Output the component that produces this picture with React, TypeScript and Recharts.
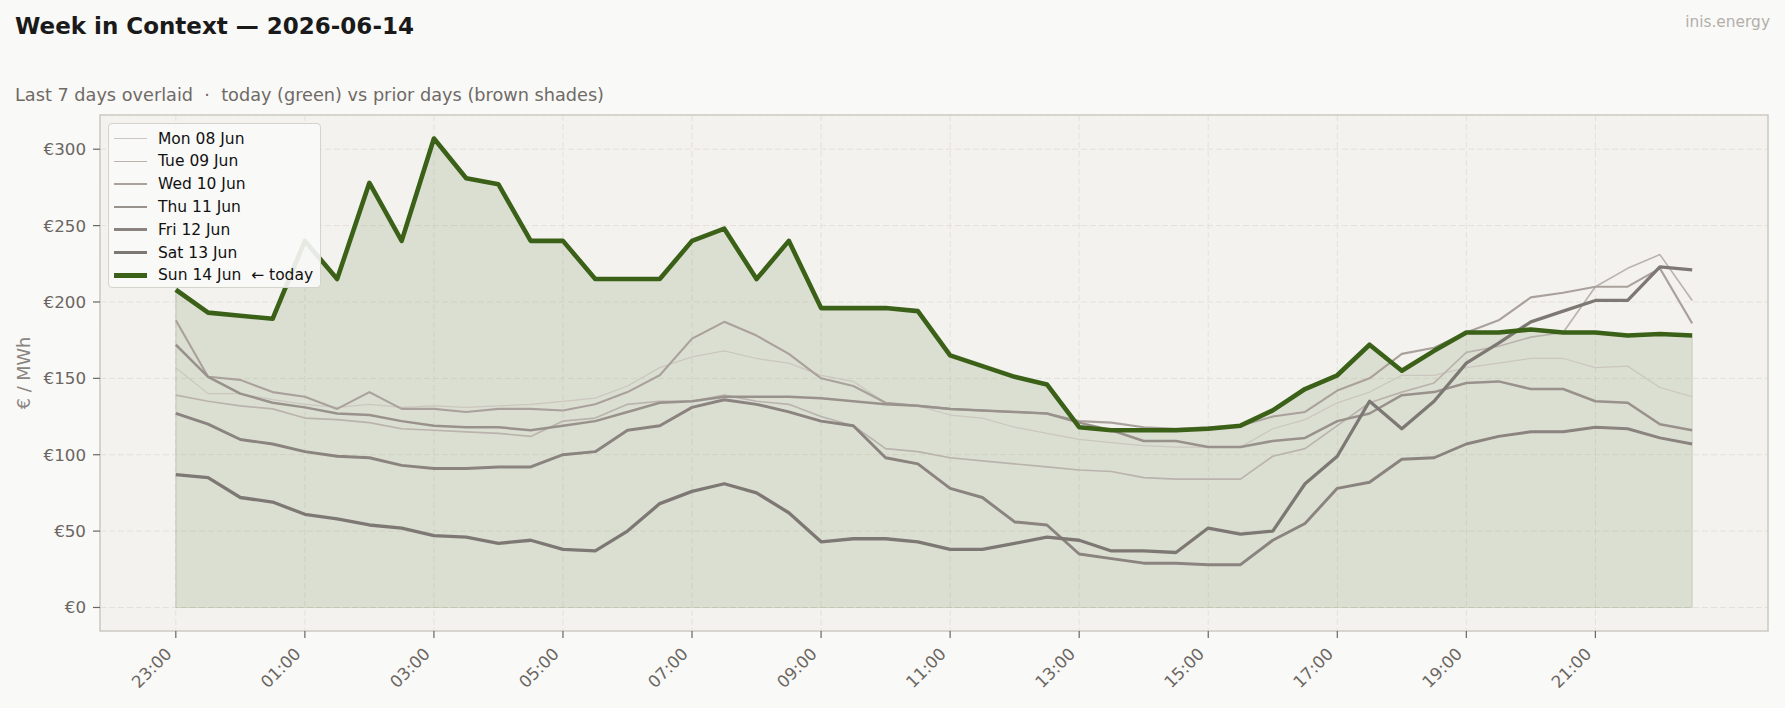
import {
  ComposedChart,
  Line,
  Area,
  XAxis,
  YAxis,
  CartesianGrid,
  ReferenceArea,
  ReferenceLine,
} from 'recharts';

const FONT = '"DejaVu Sans", sans-serif';

// half-hour slots of the delivery day, starting 23:00 the evening before
const SLOTS = [
  '23:00', '23:30', '00:00', '00:30', '01:00', '01:30', '02:00', '02:30',
  '03:00', '03:30', '04:00', '04:30', '05:00', '05:30', '06:00', '06:30',
  '07:00', '07:30', '08:00', '08:30', '09:00', '09:30', '10:00', '10:30',
  '11:00', '11:30', '12:00', '12:30', '13:00', '13:30', '14:00', '14:30',
  '15:00', '15:30', '16:00', '16:30', '17:00', '17:30', '18:00', '18:30',
  '19:00', '19:30', '20:00', '20:30', '21:00', '21:30', '22:00', '22:30',
];

// €/MWh per slot
const MON_08 = [
  157, 140, 140, 136, 133, 131, 133, 131, 132, 131, 132, 133,
  135, 137, 145, 157, 164, 168, 163, 160, 152, 148, 134, 132,
  126, 124, 118, 114, 110, 108, 106, 105, 105, 105, 117, 123,
  134, 141, 152, 152, 157, 160, 163, 163, 157, 158, 144, 138,
];
const TUE_09 = [
  139, 135, 132, 130, 124, 123, 121, 117, 116, 115, 114, 112,
  122, 124, 133, 135, 135, 139, 135, 133, 125, 119, 104, 102,
  98, 96, 94, 92, 90, 89, 85, 84, 84, 84, 99, 104,
  119, 134, 141, 147, 167, 171, 177, 180, 210, 222, 231, 201,
];
const WED_10 = [
  188, 151, 149, 141, 138, 130, 141, 130, 130, 128, 130, 130,
  129, 133, 141, 152, 176, 187, 178, 166, 150, 145, 134, 132,
  130, 129, 128, 127, 122, 121, 118, 117, 118, 119, 125, 128,
  142, 150, 166, 170, 180, 188, 203, 206, 210, 210, 222, 186,
];
const THU_11 = [
  172, 151, 140, 134, 131, 127, 126, 122, 119, 118, 118, 116,
  119, 122, 128, 134, 135, 138, 138, 138, 137, 135, 133, 132,
  130, 129, 128, 127, 121, 116, 109, 109, 105, 105, 109, 111,
  122, 127, 139, 141, 147, 148, 143, 143, 135, 134, 120, 116,
];
const FRI_12 = [
  127, 120, 110, 107, 102, 99, 98, 93, 91, 91, 92, 92,
  100, 102, 116, 119, 131, 136, 133, 128, 122, 119, 98, 94,
  78, 72, 56, 54, 35, 32, 29, 29, 28, 28, 44, 55,
  78, 82, 97, 98, 107, 112, 115, 115, 118, 117, 111, 107,
];
const SAT_13 = [
  87, 85, 72, 69, 61, 58, 54, 52, 47, 46, 42, 44,
  38, 37, 50, 68, 76, 81, 75, 62, 43, 45, 45, 43,
  38, 38, 42, 46, 44, 37, 37, 36, 52, 48, 50, 81,
  99, 135, 117, 135, 160, 173, 187, 194, 201, 201, 223, 221,
];
const SUN_14 = [
  208, 193, 191, 189, 240, 215, 278, 240, 307, 281, 277, 240,
  240, 215, 215, 215, 240, 248, 215, 240, 196, 196, 196, 194,
  165, 158, 151, 146, 118, 116, 116, 116, 117, 119, 129, 143,
  152, 172, 155, 168, 180, 180, 182, 180, 180, 178, 179, 178,
];

const SERIES = [
  { key: 'mon', label: 'Mon 08 Jun', values: MON_08, color: '#cbc6c0', width: 1.25 },
  { key: 'tue', label: 'Tue 09 Jun', values: TUE_09, color: '#bab3ad', width: 1.65 },
  { key: 'wed', label: 'Wed 10 Jun', values: WED_10, color: '#aaa19c', width: 2.1 },
  { key: 'thu', label: 'Thu 11 Jun', values: THU_11, color: '#99918c', width: 2.5 },
  { key: 'fri', label: 'Fri 12 Jun', values: FRI_12, color: '#8a837f', width: 2.9 },
  { key: 'sat', label: 'Sat 13 Jun', values: SAT_13, color: '#7e7874', width: 3.3 },
  { key: 'sun', label: 'Sun 14 Jun  \u2190 today', values: SUN_14, color: '#3b6118', width: 4.6 },
];

const Y_TICKS = [0, 50, 100, 150, 200, 250, 300];
const X_TICKS = SLOTS.map((_, i) => i).filter((i) => i % 4 === 0);
const LAST = SLOTS.length - 1;

// axis limits with a 5% margin around the data
const X_MIN = -2.35;
const X_MAX = LAST + 2.35;
const Y_MIN = -15.4;
const Y_MAX = 322.4;

const rows = SLOTS.map((t, i) => {
  const row: Record<string, number | string> = { i, t };
  SERIES.forEach((s) => {
    row[s.key] = s.values[i];
  });
  return row;
});

const TICK_COLOR = '#6b6662';

const TimeTick = ({ x, y, payload }: any) => {
  const bx = x - 3;
  const by = y + 15;
  return (
    <text
      x={bx}
      y={by}
      transform={`rotate(-45 ${bx} ${by})`}
      textAnchor="end"
      fontSize={16.7}
      fontFamily={FONT}
      fill={TICK_COLOR}
    >
      {SLOTS[payload.value]}
    </text>
  );
};

const LegendBox = () => (
  <div
    style={{
      position: 'absolute',
      left: 108,
      top: 123,
      width: 213,
      height: 165,
      boxSizing: 'border-box',
      border: '1.5px solid #d6d2cc',
      borderRadius: 4,
      background: 'rgba(250,250,248,0.9)',
      fontFamily: FONT,
    }}
  >
    {SERIES.map((s, k) => (
      <div
        key={s.key}
        style={{ position: 'absolute', left: 0, top: 14.7 + k * 22.76 - 11, height: 22, width: 210 }}
      >
        <div
          style={{
            position: 'absolute',
            left: 5,
            top: 11 - s.width / 2,
            width: 33,
            height: s.width,
            background: s.color,
          }}
        />
        <div
          style={{
            position: 'absolute',
            left: 49,
            top: 0,
            lineHeight: '22px',
            fontSize: 15.5,
            color: '#111',
            whiteSpace: 'pre',
          }}
        >
          {s.label}
        </div>
      </div>
    ))}
  </div>
);

export default function App() {
  return (
    <div
      style={{
        position: 'absolute',
        left: 0,
        top: 0,
        width: 1785,
        height: 708,
        background: '#f9f9f7',
        overflow: 'hidden',
      }}
    >
      <ComposedChart
        width={1785}
        height={708}
        data={rows}
        margin={{ top: 115, right: 17, bottom: 7, left: 10 }}
      >
        <CartesianGrid stroke="#e4e1db" strokeDasharray="6 3" strokeWidth={1} fill="#f3f2ee" />
        <XAxis
          type="number"
          dataKey="i"
          domain={[X_MIN, X_MAX]}
          ticks={X_TICKS}
          allowDataOverflow
          axisLine={false}
          tickLine={{ stroke: TICK_COLOR, strokeWidth: 1.2 }}
          tickSize={7}
          height={70}
          tick={<TimeTick />}
          interval={0}
        />
        <YAxis
          type="number"
          domain={[Y_MIN, Y_MAX]}
          ticks={Y_TICKS}
          allowDataOverflow
          axisLine={false}
          tickLine={{ stroke: TICK_COLOR, strokeWidth: 1.2 }}
          tickSize={7}
          tickMargin={7}
          width={90}
          tickFormatter={(v: number) => `\u20ac${v}`}
          tick={{ fill: TICK_COLOR, fontSize: 16.7, fontFamily: FONT }}
        />
        <Area
          type="linear"
          dataKey="sun"
          baseValue={0}
          stroke="none"
          fill="#3b6118"
          fillOpacity={0.13}
          isAnimationActive={false}
        />
        <ReferenceLine
          segment={[{ x: 0, y: 0 }, { x: LAST, y: 0 }]}
          stroke="#3b6118"
          strokeOpacity={0.14}
          strokeWidth={1.2}
        />
        <ReferenceLine
          segment={[{ x: 0, y: 0 }, { x: 0, y: SUN_14[0] }]}
          stroke="#3b6118"
          strokeOpacity={0.14}
          strokeWidth={1.2}
        />
        <ReferenceLine
          segment={[{ x: LAST, y: 0 }, { x: LAST, y: SUN_14[LAST] }]}
          stroke="#3b6118"
          strokeOpacity={0.14}
          strokeWidth={1.2}
        />
        {SERIES.map((s) => (
          <Line
            key={s.key}
            type="linear"
            dataKey={s.key}
            stroke={s.color}
            strokeWidth={s.width}
            strokeLinejoin="round"
            dot={false}
            activeDot={false}
            isAnimationActive={false}
          />
        ))}
        <ReferenceArea
          x1={X_MIN}
          x2={X_MAX}
          y1={Y_MIN}
          y2={Y_MAX}
          fill="none"
          stroke="#d0ccc5"
          strokeWidth={1.6}
        />
      </ComposedChart>

      <svg
        width={1785}
        height={708}
        style={{ position: 'absolute', left: 0, top: 0, pointerEvents: 'none' }}
      >
        <text x={15} y={34} fontSize={23} fontWeight="bold" fontFamily={FONT} fill="#1a1a1a">
          Week in Context — 2026-06-14
        </text>
        <text
          x={15}
          y={101}
          fontSize={17.7}
          fontFamily={FONT}
          fill="#6f6a66"
          style={{ whiteSpace: 'pre' }}
        >
          {'Last 7 days overlaid  \u00b7  today (green) vs prior days (brown shades)'}
        </text>
        <text x={1770} y={27} fontSize={15.4} fontFamily={FONT} fill="#b3afab" textAnchor="end">
          inis.energy
        </text>
        <text
          x={24}
          y={373}
          transform="rotate(-90 24 373)"
          textAnchor="middle"
          dominantBaseline="central"
          fontSize={17.7}
          fontFamily={FONT}
          fill="#8a847f"
        >
          € / MWh
        </text>
      </svg>

      <LegendBox />
    </div>
  );
}
